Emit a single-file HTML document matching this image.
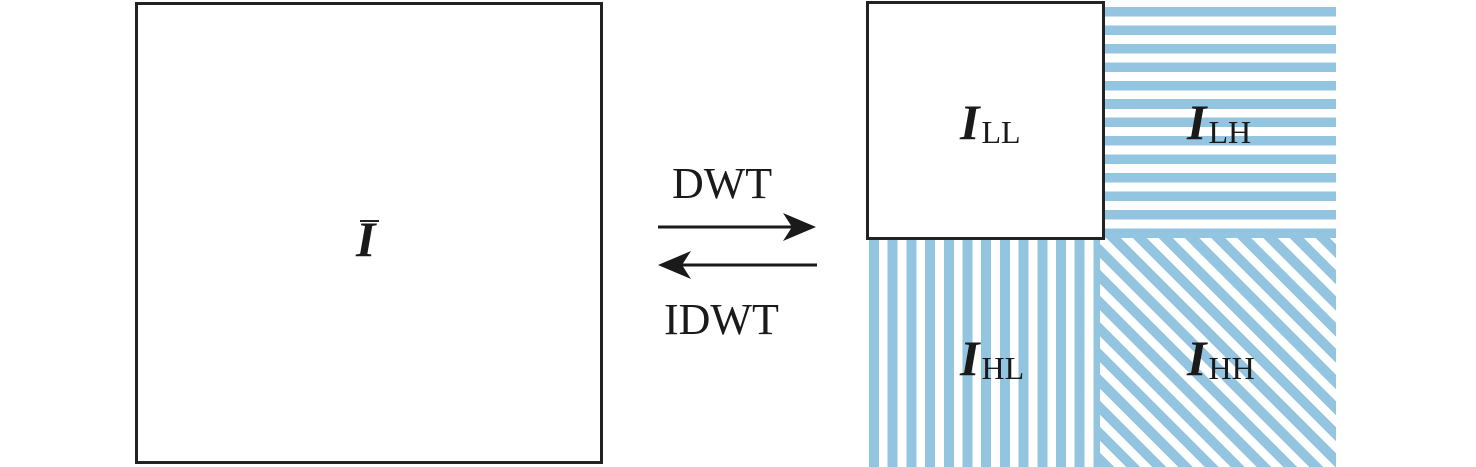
<!DOCTYPE html>
<html><head><style>
body{margin:0;width:1476px;height:467px;background:#fff;position:relative;overflow:hidden;font-family:"Liberation Serif",serif;color:#1a1a1a}
.a{position:absolute}
.lab{position:absolute;font-size:50px;white-space:nowrap;line-height:1}
.lab b{font-style:italic;font-weight:bold}
.lab sub{font-size:32px;vertical-align:baseline;position:relative;top:4px;margin-left:2px}
</style></head><body>
<div class="a" style="left:135px;top:2px;width:462px;height:456px;border:3px solid #222"></div>
<div class="lab" style="left:356px;top:214px"><b>I</b></div>
<div class="a" style="left:360px;top:220px;width:19px;height:2px;background:#222"></div>

<div class="a" style="left:1102px;top:7px;width:234px;height:229px;background:repeating-linear-gradient(to bottom,#94c5e0 0 9.5px,#fff 9.5px 18.45px)"></div>
<div class="a" style="left:869px;top:238px;width:233px;height:229px;background:repeating-linear-gradient(to right,#94c5e0 0 10px,#fff 10px 18.7px)"></div>
<div class="a" style="left:1100px;top:236px;width:236px;height:231px;background:repeating-linear-gradient(45deg,#94c5e0 0 10px,#fff 10px 18.5px)"></div>
<div class="a" style="left:1100px;top:230px;width:236px;height:8px;background:#94c5e0"></div>
<div class="a" style="left:866px;top:1px;width:233px;height:233px;border:3px solid #222;background:#fff"></div>

<div class="lab" style="left:960px;top:97px"><b>I</b><sub>LL</sub></div>
<div class="lab" style="left:1187px;top:97px"><b>I</b><sub>LH</sub></div>
<div class="lab" style="left:960px;top:333px"><b>I</b><sub>HL</sub></div>
<div class="lab" style="left:1187px;top:333px"><b>I</b><sub>HH</sub></div>

<div class="a" style="left:672px;top:158px;font-size:44px">DWT</div>
<div class="a" style="left:664px;top:294px;font-size:44px">IDWT</div>
<svg class="a" style="left:0;top:0" width="1476" height="467">
<line x1="658" y1="227" x2="800" y2="227" stroke="#1a1a1a" stroke-width="3"/>
<path d="M816 227 L783 213 L792 227 L783 241 Z" fill="#1a1a1a"/>
<line x1="675" y1="265" x2="817" y2="265" stroke="#1a1a1a" stroke-width="3"/>
<path d="M658 265 L691 251 L682 265 L691 279 Z" fill="#1a1a1a"/>
</svg>
</body></html>
